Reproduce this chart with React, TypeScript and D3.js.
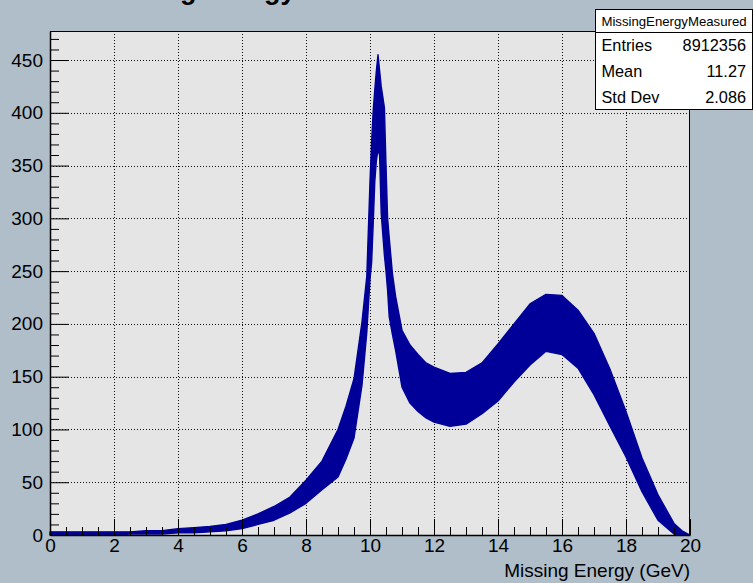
import React, { useEffect, useRef } from 'react';
import * as d3 from 'd3';

const energy = [
    0, 0.5, 1, 1.5, 2, 2.5, 3, 3.5, 4, 4.5, 5, 5.5, 6, 6.5, 7, 7.5, 8, 8.5, 9, 9.25, 9.5, 9.75, 9.9,
    10, 10.05, 10.1, 10.15, 10.2, 10.25, 10.3, 10.35, 10.4, 10.45, 10.5, 10.55, 10.6, 10.7, 10.8,
    11, 11.25, 11.5, 11.75, 12, 12.5, 13, 13.5, 14, 14.5, 15, 15.5, 16, 16.5, 17, 17.5, 18, 18.5,
    19, 19.5, 19.75, 20
];
const upperCounts = [
    3, 3, 3, 3, 3, 3, 4, 4, 6, 7, 8, 10, 14, 20, 27, 36, 52, 70, 100, 122, 148, 202, 245,
    335, 372, 402, 422, 440, 455, 440, 425, 415, 405, 350, 300, 282, 248, 226,
    194, 180, 171, 163, 159, 153, 154, 163, 181, 200, 219, 228, 227, 213, 191, 157, 117, 73,
    38, 11, 4, 0
];
const lowerCounts = [
    0, 0, 0, 0, 0, 1, 1, 1, 2, 2, 3, 4, 6, 10, 14, 21, 30, 43, 55, 72, 92, 142, 192,
    242, 258, 295, 335, 355, 365, 360, 305, 285, 265, 250, 232, 207, 190, 175,
    140, 125, 117, 111, 107, 103, 105, 115, 127, 145, 161, 174, 171, 158, 133, 103, 74, 41,
    14, 1, 0, 0
];

const xTicks = [0, 2, 4, 6, 8, 10, 12, 14, 16, 18, 20];
const yTicks = [0, 50, 100, 150, 200, 250, 300, 350, 400, 450];
const statLabels = ['Entries', 'Mean', 'Std Dev'];
const statValues = ['8912356', '11.27', '2.086'];

const FONT = '"Liberation Sans", Arial, Helvetica, sans-serif';

export default function App() {
    const svgRef = useRef<SVGSVGElement>(null);

    useEffect(() => {
        const svg = d3.select(svgRef.current);
        svg.selectAll('*').remove();

        const width = 753;
        const height = 583;
        const plot = { left: 50, right: 690, top: 31, bottom: 535 };

        // page background
        svg.append('rect')
            .attr('width', width)
            .attr('height', height)
            .attr('fill', '#afbec9');

        // title, mostly off the top of the canvas (as in the original)
        svg.append('text')
            .attr('x', 96)
            .attr('y', -1)
            .attr('font-family', FONT)
            .attr('font-weight', 'bold')
            .attr('font-size', 27)
            .attr('fill', '#000')
            .text('Missing Energy');

        const x = d3.scaleLinear().domain([0, 20]).range([plot.left, plot.right]);
        const y = d3.scaleLinear().domain([0, 477.5]).range([plot.bottom, plot.top]);

        svg.append('rect')
            .attr('x', plot.left)
            .attr('y', plot.top)
            .attr('width', plot.right - plot.left)
            .attr('height', plot.bottom - plot.top)
            .attr('fill', '#e5e5e5');

        // dotted grid
        const grid = svg.append('g')
            .attr('stroke', '#111')
            .attr('stroke-width', 1)
            .attr('stroke-dasharray', '1,2');

        grid.selectAll('.gx')
            .data(xTicks.slice(1, -1))
            .enter()
            .append('line')
            .attr('x1', d => Math.round(x(d)) + 0.5)
            .attr('x2', d => Math.round(x(d)) + 0.5)
            .attr('y1', plot.top)
            .attr('y2', plot.bottom);

        grid.selectAll('.gy')
            .data(yTicks.slice(1))
            .enter()
            .append('line')
            .attr('x1', plot.left)
            .attr('x2', plot.right)
            .attr('y1', d => Math.round(y(d)) + 0.5)
            .attr('y2', d => Math.round(y(d)) + 0.5);

        // histogram band
        const band = d3.area<number>()
            .x((d, i) => x(energy[i]))
            .y0((d, i) => y(lowerCounts[i]))
            .y1((d, i) => y(upperCounts[i]))
            .curve(d3.curveLinear);

        svg.append('path')
            .datum(upperCounts)
            .attr('d', band)
            .attr('fill', '#000099')
            .attr('stroke', '#000099')
            .attr('stroke-width', 1.4)
            .attr('stroke-linejoin', 'round');

        // frame
        svg.append('rect')
            .attr('x', plot.left + 0.5)
            .attr('y', plot.top + 0.5)
            .attr('width', plot.right - plot.left - 1)
            .attr('height', plot.bottom - plot.top)
            .attr('fill', 'none')
            .attr('stroke', '#000')
            .attr('stroke-width', 1);

        // x axis (ticks point into the plot)
        const xMinor = d3.range(0, 20.01, 0.5).filter(v => v % 2 !== 0);
        svg.append('g')
            .attr('transform', `translate(0,${plot.bottom})`)
            .call(d3.axisBottom(x).tickValues(xMinor).tickSize(-8).tickSizeOuter(0).tickFormat(() => ''))
            .call(g => g.select('.domain').remove());

        const xAxis = svg.append('g')
            .attr('transform', `translate(0,${plot.bottom})`)
            .call(d3.axisBottom(x).tickValues(xTicks).tickSize(-16).tickSizeOuter(0).tickPadding(4).tickFormat(d3.format('d')));
        xAxis.select('.domain').attr('stroke-width', 1.5);
        xAxis.selectAll('text')
            .attr('font-family', FONT)
            .attr('font-size', 19)
            .attr('fill', '#000');

        // y axis
        const yMinor = d3.range(0, 471, 10).filter(v => v % 50 !== 0);
        svg.append('g')
            .attr('transform', `translate(${plot.left},0)`)
            .call(d3.axisLeft(y).tickValues(yMinor).tickSize(-9).tickSizeOuter(0).tickFormat(() => ''))
            .call(g => g.select('.domain').remove());

        const yAxis = svg.append('g')
            .attr('transform', `translate(${plot.left},0)`)
            .call(d3.axisLeft(y).tickValues(yTicks).tickSize(-19).tickSizeOuter(0).tickPadding(7).tickFormat(d3.format('d')));
        yAxis.select('.domain').attr('stroke-width', 1.5);
        yAxis.selectAll('text')
            .attr('font-family', FONT)
            .attr('font-size', 19)
            .attr('fill', '#000');

        svg.append('text')
            .attr('x', plot.right)
            .attr('y', 577)
            .attr('text-anchor', 'end')
            .attr('font-family', FONT)
            .attr('font-size', 19)
            .attr('fill', '#000')
            .text('Missing Energy (GeV)');

        // stats box
        const box = { left: 595.5, top: 9.5, right: 752.5, bottom: 109.5, sep: 32.5 };
        const stats = svg.append('g');
        stats.append('rect')
            .attr('x', box.left)
            .attr('y', box.top)
            .attr('width', box.right - box.left)
            .attr('height', box.bottom - box.top)
            .attr('fill', '#fff')
            .attr('stroke', '#000');
        stats.append('line')
            .attr('x1', box.left)
            .attr('x2', box.right)
            .attr('y1', box.sep)
            .attr('y2', box.sep)
            .attr('stroke', '#000');
        stats.append('text')
            .attr('x', (box.left + box.right) / 2)
            .attr('y', 25.5)
            .attr('text-anchor', 'middle')
            .attr('font-family', FONT)
            .attr('font-size', 13.2)
            .text('MissingEnergyMeasured');

        const rowY = [51, 77, 103];
        stats.selectAll('.lbl')
            .data(statLabels)
            .enter()
            .append('text')
            .attr('x', 601.5)
            .attr('y', (d, i) => rowY[i])
            .attr('font-family', FONT)
            .attr('font-size', 16.3)
            .text(d => d);
        stats.selectAll('.val')
            .data(statValues)
            .enter()
            .append('text')
            .attr('x', 746)
            .attr('y', (d, i) => rowY[i])
            .attr('text-anchor', 'end')
            .attr('font-family', FONT)
            .attr('font-size', 16.3)
            .text(d => d);
    }, []);

    return (
        <svg
            ref={svgRef}
            width={753}
            height={583}
            style={{ position: 'absolute', left: 0, top: 0, display: 'block' }}
        />
    );
}
